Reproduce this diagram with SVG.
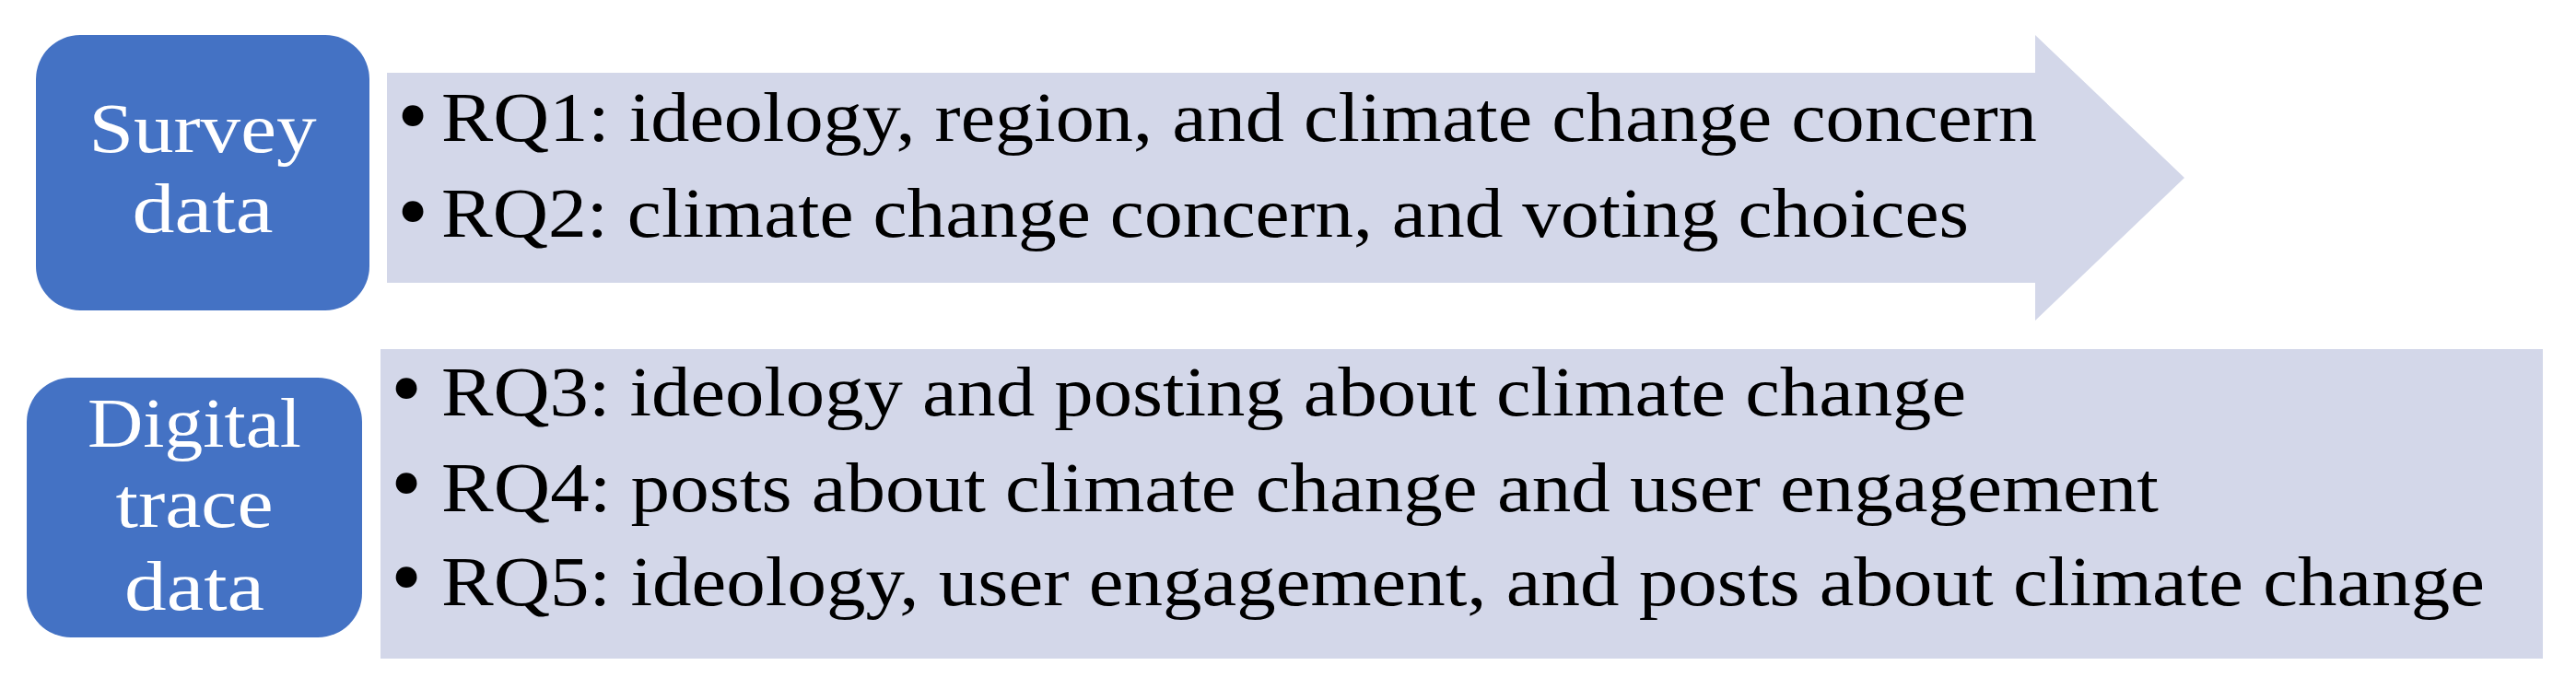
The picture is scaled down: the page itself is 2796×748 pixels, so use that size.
<svg xmlns="http://www.w3.org/2000/svg" width="2796" height="748" viewBox="0 0 2796 748">
<style>
.src{fill:#4472C4}
.panel{fill:#D3D7E9}
.lbl{font-family:"Liberation Serif",serif;font-size:76px;fill:#FFFFFF;text-anchor:middle}
.rq{font-family:"Liberation Serif",serif;font-size:76px;fill:#000000}
.bul{font-family:"Liberation Serif",serif;font-size:96px;fill:#000000;text-anchor:middle}
</style>
<rect width="2796" height="748" fill="#FFFFFF"/>
<g id="connectors">
<path id="arrow-survey" class="panel" d="M420 79 H2209 V38 L2371 193 L2209 348 V307 H420 Z"/>
<rect id="panel-digital" class="panel" x="413" y="379" width="2347" height="336"/>
</g>
<g id="node-survey">
<rect class="src" x="39" y="38" width="362" height="299" rx="48" ry="48"/>
<text class="lbl" x="220" y="165" textLength="247" lengthAdjust="spacingAndGlyphs">Survey</text>
<text class="lbl" x="220" y="252" textLength="153" lengthAdjust="spacingAndGlyphs">data</text>
</g>
<g id="node-digital">
<rect class="src" x="29" y="410" width="364" height="282" rx="48" ry="48"/>
<text class="lbl" x="211" y="485" textLength="232" lengthAdjust="spacingAndGlyphs">Digital</text>
<text class="lbl" x="211" y="572" textLength="171" lengthAdjust="spacingAndGlyphs">trace</text>
<text class="lbl" x="211" y="662" textLength="152" lengthAdjust="spacingAndGlyphs">data</text>
</g>
<g id="text-survey">
<text class="bul" x="448" y="157">•</text>
<text class="rq" x="479" y="153" textLength="1732" lengthAdjust="spacingAndGlyphs">RQ1: ideology, region, and climate change concern</text>
<text class="bul" x="448" y="261">•</text>
<text class="rq" x="479" y="257" textLength="1658" lengthAdjust="spacingAndGlyphs">RQ2: climate change concern, and voting choices</text>
</g>
<g id="text-digital">
<text class="bul" x="441" y="453">•</text>
<text class="rq" x="479" y="451" textLength="1655" lengthAdjust="spacingAndGlyphs">RQ3: ideology and posting about climate change</text>
<text class="bul" x="441" y="556">•</text>
<text class="rq" x="479" y="555" textLength="1864" lengthAdjust="spacingAndGlyphs">RQ4: posts about climate change and user engagement</text>
<text class="bul" x="441" y="658">•</text>
<text class="rq" x="479" y="657" textLength="2218" lengthAdjust="spacingAndGlyphs">RQ5: ideology, user engagement, and posts about climate change</text>
</g>
</svg>
